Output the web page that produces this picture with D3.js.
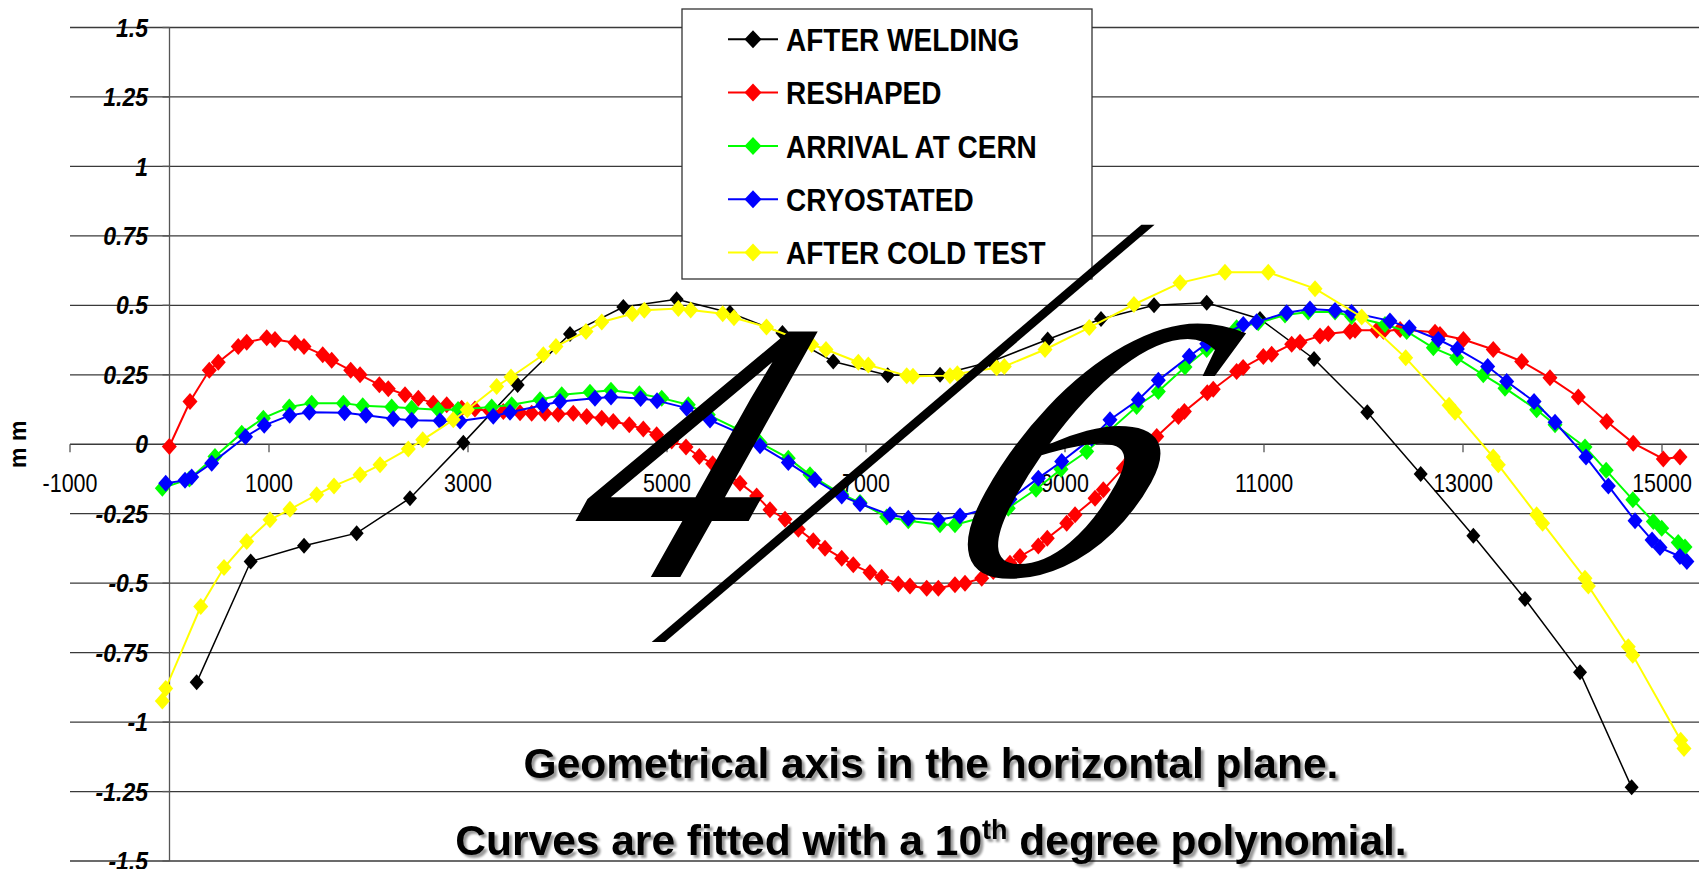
<!DOCTYPE html>
<html>
<head>
<meta charset="utf-8">
<title>Geometrical axis in the horizontal plane</title>
<script src="https://d3js.org/d3.v7.min.js"></script>
<style>
body{margin:0;background:#fff;}
svg{display:block;font-family:"Liberation Sans",Arial,sans-serif;}
.grid line{stroke:#3a3a3a;stroke-width:1.3;}
.axis-line{stroke:#555;stroke-width:1.3;fill:none;}
.xlab{font-size:21.5px;fill:#000;}
.ylab{font-size:23px;font-weight:bold;font-style:italic;fill:#000;}
.leg-text{font-size:28px;font-weight:bold;fill:#000;}
.title{font-size:42.5px;font-weight:bold;fill:#000;}
.deco{font-family:"Liberation Serif","Times New Roman",serif;font-style:italic;fill:#000;}
</style>
</head>
<body>
<script>
// axis ticks
var xTicks = [-1000, 1000, 3000, 5000, 7000, 9000, 11000, 13000, 15000];
var yTicks = d3.range(-1.5, 1.51, 0.25);

var seriesNames = ['AFTER WELDING', 'RESHAPED', 'ARRIVAL AT CERN', 'CRYOSTATED', 'AFTER COLD TEST'];
var seriesColors = ['#000000', '#ff0000', '#00ff00', '#0000ff', '#ffff00'];

// [position, deviation in mm]
var afterWelding = [[273,-0.857],[816,-0.422],[1352,-0.365],[1881,-0.32],[2417,-0.194],[2953,0.005],[3499,0.213],
	[4025,0.397],[4561,0.494],[5097,0.522],[5633,0.473],[6160,0.40],[6671,0.298],[7218,0.248],[7744,0.25],
	[8263,0.298],[8826,0.377],[9362,0.451],[9895,0.5],[10424,0.509],[10960,0.451],[11503,0.307],[12038,0.115],
	[12575,-0.107],[13104,-0.329],[13623,-0.557],[14176,-0.821],[14695,-1.235]];

var reshaped = [[-2,-0.008],[206,0.154],[400,0.266],[490,0.295],[691,0.352],[776,0.367],[977,0.383],[1060,0.377],
	[1261,0.365],[1352,0.352],[1540,0.322],[1630,0.302],[1821,0.266],[1915,0.25],[2109,0.214],[2199,0.2],
	[2367,0.178],[2501,0.166],[2651,0.148],[2786,0.142],[2936,0.13],[3070,0.127],[3220,0.12],[3355,0.118],
	[3523,0.113],[3640,0.112],[3774,0.112],[3908,0.108],[4058,0.112],[4193,0.1],[4344,0.094],[4460,0.082],
	[4621,0.07],[4762,0.055],[4896,0.034],[5047,0.012],[5191,-0.01],[5325,-0.044],[5459,-0.07],[5616,-0.11],
	[5734,-0.14],[5901,-0.186],[6035,-0.236],[6186,-0.27],[6320,-0.306],[6470,-0.347],[6588,-0.374],[6756,-0.41],
	[6872,-0.434],[7040,-0.462],[7158,-0.479],[7325,-0.503],[7442,-0.51],[7610,-0.518],[7727,-0.518],[7894,-0.506],
	[7995,-0.5],[8163,-0.482],[8279,-0.458],[8447,-0.428],[8548,-0.404],[8732,-0.366],[8822,-0.338],[9017,-0.284],
	[9101,-0.254],[9302,-0.194],[9385,-0.164],[9586,-0.086],[9660,-0.055],[9837,0.004],[9922,0.028],[10140,0.1],
	[10200,0.118],[10430,0.185],[10490,0.198],[10725,0.262],[10790,0.276],[10993,0.316],[11077,0.324],[11278,0.36],
	[11362,0.367],[11563,0.39],[11646,0.398],[11864,0.406],[11915,0.41],[12133,0.41],[12200,0.407],[12368,0.413],
	[12719,0.403],[12769,0.395],[13004,0.377],[13304,0.341],[13590,0.298],[13874,0.239],[14159,0.17],[14444,0.082],
	[14711,0.004],[15013,-0.053],[15181,-0.046]];

var arrivalCern = [[-72,-0.158],[200,-0.125],[457,-0.044],[726,0.04],[943,0.094],[1204,0.134],[1429,0.148],
	[1747,0.148],[1942,0.139],[2233,0.134],[2434,0.13],[2702,0.124],[2900,0.125],[3238,0.134],[3439,0.142],
	[3724,0.16],[3942,0.178],[4226,0.187],[4437,0.194],[4722,0.182],[4947,0.166],[5214,0.142],[5415,0.106],
	[5724,0.052],[5935,0.005],[6219,-0.05],[6437,-0.11],[6756,-0.18],[6940,-0.21],[7208,-0.262],[7425,-0.275],
	[7744,-0.29],[7894,-0.29],[8190,-0.262],[8430,-0.23],[8709,-0.162],[8960,-0.09],[9218,-0.026],[9419,0.04],
	[9720,0.136],[9938,0.19],[10206,0.278],[10424,0.341],[10725,0.419],[10942,0.437],[11211,0.465],[11445,0.476],
	[11714,0.476],[11880,0.46],[12216,0.431],[12434,0.406],[12702,0.347],[12937,0.311],[13204,0.25],[13422,0.202],
	[13740,0.124],[13925,0.07],[14226,-0.01],[14439,-0.094],[14707,-0.2],[14913,-0.278],[14997,-0.302],
	[15163,-0.354],[15231,-0.37]];

var cryostated = [[-38,-0.14],[156,-0.13],[223,-0.118],[424,-0.068],[764,0.027],[952,0.068],[1208,0.104],
	[1405,0.115],[1759,0.113],[1975,0.104],[2249,0.092],[2434,0.086],[2719,0.085],[2920,0.084],[3254,0.101],
	[3422,0.115],[3750,0.14],[3925,0.154],[4276,0.166],[4437,0.17],[4735,0.165],[4900,0.157],[5198,0.13],
	[5432,0.087],[5734,0.039],[5935,-0.005],[6219,-0.066],[6487,-0.128],[6756,-0.186],[6940,-0.214],[7241,-0.254],
	[7425,-0.266],[7727,-0.272],[7945,-0.258],[8190,-0.235],[8447,-0.198],[8732,-0.122],[8967,-0.062],[9268,0.022],
	[9452,0.088],[9737,0.16],[9938,0.23],[10249,0.317],[10424,0.362],[10792,0.431],[10926,0.441],[11228,0.473],
	[11462,0.487],[11714,0.481],[11880,0.474],[12266,0.444],[12460,0.419],[12752,0.377],[12943,0.343],[13248,0.28],
	[13439,0.226],[13714,0.154],[13925,0.079],[14236,-0.046],[14461,-0.15],[14729,-0.275],[14900,-0.345],
	[14980,-0.372],[15180,-0.404],[15250,-0.422]];

var afterColdTest = [[-72,-0.924],[-38,-0.879],[314,-0.584],[548,-0.444],[776,-0.35],[1010,-0.272],[1211,-0.234],
	[1479,-0.182],[1653,-0.15],[1915,-0.11],[2116,-0.074],[2400,-0.017],[2545,0.016],[2852,0.088],[2993,0.124],
	[3288,0.208],[3432,0.242],[3757,0.322],[3884,0.352],[4186,0.406],[4344,0.44],[4651,0.47],[4772,0.482],
	[5114,0.489],[5238,0.483],[5560,0.47],[5673,0.455],[6000,0.422],[6454,0.359],[6598,0.341],[6923,0.295],
	[7023,0.285],[7409,0.247],[7472,0.245],[7844,0.247],[7918,0.254],[8313,0.275],[8390,0.28],[8799,0.341],
	[9244,0.42],[9693,0.503],[10156,0.581],[10608,0.619],[11043,0.619],[11513,0.56],[11982,0.458],[12424,0.311],
	[12860,0.14],[12920,0.115],[13304,-0.046],[13355,-0.074],[13740,-0.254],[13800,-0.284],[14226,-0.482],
	[14260,-0.51],[14661,-0.729],[14706,-0.759],[15188,-1.065],[15221,-1.095]];

var seriesData = [afterWelding, reshaped, arrivalCern, cryostated, afterColdTest];

var titleLine1 = 'Geometrical axis in the horizontal plane.';
var titleLine2 = ['Curves are fitted with a 10', 'th', ' degree polynomial.'];
var yAxisTitle = 'm m';
var pageNumber = ['4', '/', '6'];

var W = 1699, H = 869;
var x = d3.scaleLinear().domain([-1000, 15000]).range([70, 1662]);
var y = d3.scaleLinear().domain([-1.5, 1.5]).range([861, 27.5]);

var svg = d3.select('body').append('svg').attr('width', W).attr('height', H);

var defs = svg.append('defs');
defs.append('filter').attr('id', 'shadow').attr('x', '-5%').attr('y', '-20%').attr('width', '110%').attr('height', '150%')
	.append('feDropShadow').attr('dx', 3).attr('dy', 3).attr('stdDeviation', 1.2)
	.attr('flood-color', '#000').attr('flood-opacity', 0.4);

// horizontal gridlines
svg.append('g').attr('class', 'grid')
	.selectAll('line').data(yTicks).enter().append('line')
	.attr('x1', x(-1000)).attr('x2', W)
	.attr('y1', function(d){ return y(d); }).attr('y2', function(d){ return y(d); });

// value axis at x = 0
svg.append('line').attr('class', 'axis-line')
	.attr('x1', x(0)).attr('x2', x(0)).attr('y1', y(1.5)).attr('y2', y(-1.5));
svg.append('g').selectAll('line').data(yTicks).enter().append('line').attr('class', 'axis-line')
	.attr('x1', x(0) - 7).attr('x2', x(0))
	.attr('y1', function(d){ return y(d); }).attr('y2', function(d){ return y(d); });

svg.append('g').selectAll('text').data(yTicks).enter().append('text')
	.attr('class', 'ylab')
	.attr('text-anchor', 'end')
	.attr('dy', '0.36em')
	.attr('transform', function(d){ return 'translate(148,' + y(d) + ') scale(1,1.1)'; })
	.text(function(d){ return String(d); });

// category axis at y = 0
svg.append('g').selectAll('line').data(xTicks).enter().append('line').attr('class', 'axis-line')
	.attr('x1', function(d){ return x(d); }).attr('x2', function(d){ return x(d); })
	.attr('y1', y(0)).attr('y2', y(0) + 8);

svg.append('g').selectAll('text').data(xTicks).enter().append('text')
	.attr('class', 'xlab')
	.attr('text-anchor', 'middle')
	.attr('dy', '0.36em')
	.attr('transform', function(d){ return 'translate(' + x(d) + ',483) scale(1,1.18)'; })
	.text(function(d){ return d; });

svg.append('text')
	.attr('transform', 'translate(26,' + y(0) + ') rotate(-90)')
	.attr('text-anchor', 'middle')
	.style('font-size', '23px').style('font-weight', 'bold')
	.text(yAxisTitle);

// series
var line = d3.line().x(function(d){ return x(d[0]); }).y(function(d){ return y(d[1]); });
var diamond = function(w, h){ return 'M0,' + (-h) + 'L' + w + ',0L0,' + h + 'L' + (-w) + ',0Z'; };

var plot = svg.append('g');
seriesData.forEach(function(data, i){
	var g = plot.append('g');
	g.append('path').attr('d', line(data))
		.attr('fill', 'none').attr('stroke', seriesColors[i])
		.attr('stroke-width', i === 0 ? 1.5 : 2);
	g.selectAll('path.pt').data(data).enter().append('path')
		.attr('class', 'pt')
		.attr('d', i === 0 ? diamond(7, 8) : diamond(7.5, 8.5))
		.attr('fill', seriesColors[i])
		.attr('transform', function(d){ return 'translate(' + x(d[0]) + ',' + y(d[1]) + ')'; });
});

// legend
var legend = svg.append('g').attr('transform', 'translate(682,9)');
legend.append('rect').attr('width', 410).attr('height', 270)
	.attr('fill', '#fff').attr('stroke', '#333').attr('stroke-width', 1.3);
var items = legend.selectAll('g.item').data(seriesNames).enter().append('g')
	.attr('class', 'item')
	.attr('transform', function(d, i){ return 'translate(0,' + (30.3 + i * 53.3) + ')'; });
items.append('line').attr('x1', 46).attr('x2', 96)
	.attr('stroke', function(d, i){ return seriesColors[i]; }).attr('stroke-width', 2);
items.append('path').attr('d', diamond(8.5, 9)).attr('transform', 'translate(71,0)')
	.attr('fill', function(d, i){ return seriesColors[i]; });
items.append('text').attr('class', 'leg-text')
	.attr('transform', 'translate(104,0) scale(1,1.15)')
	.attr('dy', '0.36em')
	.text(function(d){ return d; });

// page number written over the chart
var deco = svg.append('g').attr('class', 'deco');
deco.append('text').text(pageNumber[0])
	.attr('transform', 'translate(553,577) skewX(-21)')
	.style('font-size', '373px');
deco.append('text').text(pageNumber[1])
	.attr('transform', 'translate(669,636) skewX(-44) scale(0.4,1)')
	.style('font-size', '624px');
deco.append('text').text(pageNumber[2])
	.attr('transform', 'translate(924,575) skewX(-29)')
	.style('font-size', '380px');

// titles
svg.append('text').attr('class', 'title')
	.attr('x', 931).attr('y', 778).attr('text-anchor', 'middle')
	.attr('filter', 'url(#shadow)')
	.text(titleLine1);
var t2 = svg.append('text').attr('class', 'title')
	.attr('x', 931).attr('y', 855).attr('text-anchor', 'middle')
	.attr('filter', 'url(#shadow)');
t2.append('tspan').text(titleLine2[0]);
t2.append('tspan').text(titleLine2[1]).attr('dy', -16).style('font-size', '27px');
t2.append('tspan').text(titleLine2[2]).attr('dy', 16);
</script>
</body>
</html>
